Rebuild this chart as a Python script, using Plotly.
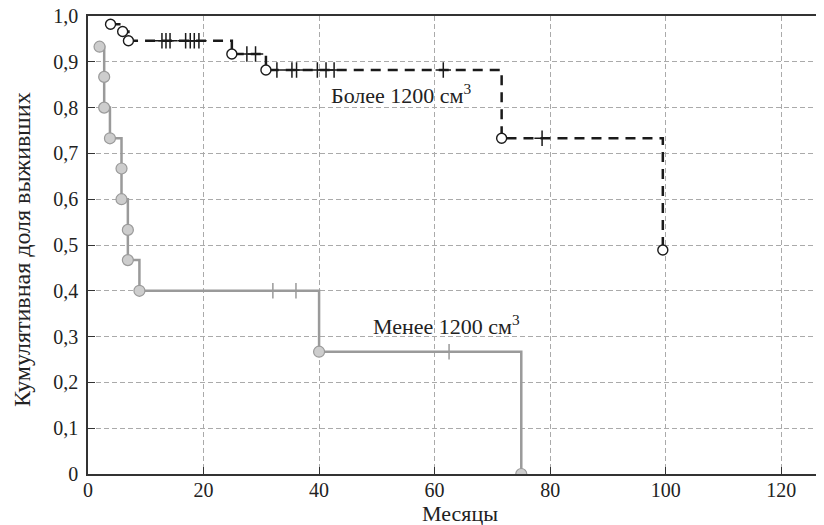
import plotly.graph_objects as go

# ---- data ----
# Group "Менее 1200 см3" (gray, solid)
low_t = [2.0, 2.8, 2.8, 3.8, 5.8, 5.8, 6.9, 6.9, 8.9, 40.0, 75.0]
low_s = [0.933, 0.867, 0.800, 0.733, 0.667, 0.600, 0.533, 0.467, 0.400, 0.267, 0.0]
low_cens_t = [32.0, 36.0, 62.5]
low_cens_s = [0.400, 0.400, 0.267]

# Group "Более 1200 см3" (black, dashed)
up_t = [3.9, 6.0, 7.0, 24.9, 30.8, 71.6, 99.5]
up_s = [0.982, 0.966, 0.946, 0.917, 0.882, 0.733, 0.489]
up_cens_t = [12.8, 13.5, 14.2, 16.9, 17.7, 18.4, 19.2,
             27.5, 29.0,
             32.7, 35.3, 36.1, 39.7, 41.2, 42.6, 61.5,
             78.6]
up_cens_s = [0.946] * 7 + [0.917] * 2 + [0.882] * 7 + [0.733]

x_ticks = [0, 20, 40, 60, 80, 100, 120]
y_ticks = [0, 0.1, 0.2, 0.3, 0.4, 0.5, 0.6, 0.7, 0.8, 0.9, 1.0]
y_ticktext = ["0", "0,1", "0,2", "0,3", "0,4", "0,5", "0,6", "0,7", "0,8", "0,9", "1,0"]

label_low = "Менее 1200 см<sup>3</sup>"
label_up = "Более 1200 см<sup>3</sup>"
x_title = "Месяцы"
y_title = "Кумулятивная доля выживших"

FONT = "Liberation Serif"
GRAY = "#9a9a9a"
TXT = "#222222"

fig = go.Figure()

fig.add_trace(go.Scatter(x=low_t, y=low_s, mode="lines", line_shape="hv",
                         line=dict(color=GRAY, width=2.5), hoverinfo="skip"))
fig.add_trace(go.Scatter(x=up_t, y=up_s, mode="lines", line_shape="hv",
                         line=dict(color="#1a1a1a", width=2.5, dash="10px,7px"),
                         hoverinfo="skip"))
fig.add_trace(go.Scatter(x=low_cens_t, y=low_cens_s, mode="markers",
                         marker=dict(symbol="cross-thin", size=11,
                                     line=dict(color=GRAY, width=1.5))))
fig.add_trace(go.Scatter(x=up_cens_t, y=up_cens_s, mode="markers",
                         marker=dict(symbol="cross-thin", size=11,
                                     line=dict(color="#1a1a1a", width=1.5))))
fig.add_trace(go.Scatter(x=low_t, y=low_s, mode="markers",
                         marker=dict(symbol="circle", size=11, color="#cdcdcd",
                                     line=dict(color=GRAY, width=1.2))))
fig.add_trace(go.Scatter(x=up_t, y=up_s, mode="markers",
                         marker=dict(symbol="circle", size=10, color="white",
                                     line=dict(color="#1a1a1a", width=1.4))))

fig.add_annotation(x=54.2, y=0.829, text=label_up, showarrow=False,
                   font=dict(family=FONT, size=22, color=TXT))
fig.add_annotation(x=62.0, y=0.326, text=label_low, showarrow=False,
                   font=dict(family=FONT, size=22, color=TXT))

# axis titles as paper annotations
fig.add_annotation(xref="paper", yref="paper", x=0, y=0.489, xshift=-66,
                   text=y_title, textangle=-90, showarrow=False,
                   xanchor="center", yanchor="middle",
                   font=dict(family=FONT, size=24, color=TXT))
fig.add_annotation(xref="paper", yref="paper", x=0.505, y=0, yshift=-39,
                   text=x_title, showarrow=False,
                   xanchor="center", yanchor="middle",
                   font=dict(family=FONT, size=22, color=TXT))

# page body has an 8px margin, so the figure is sized to fit inside the window
fig.update_layout(
    width=816, height=517,
    margin=dict(l=80, r=0, t=8, b=51, autoexpand=False),
    paper_bgcolor="white", plot_bgcolor="white",
    showlegend=False,
    font=dict(family=FONT, size=20, color=TXT),
    xaxis=dict(range=[0, 127.4], tickvals=x_ticks, ticks="inside", ticklen=7,
               tickcolor="#333", showline=True, linecolor="#333", linewidth=1.5,
               mirror=True, showgrid=True, gridcolor="#aaaaaa", gridwidth=1,
               griddash="5px,3px", zeroline=False, automargin=False,
               ticklabeloverflow="allow", ticklabelstandoff=-3,
               tickfont=dict(family=FONT, size=20, color=TXT)),
    yaxis=dict(range=[0, 1.0], tickvals=y_ticks, ticktext=y_ticktext,
               ticks="inside", ticklen=7, tickcolor="#333",
               showline=True, linecolor="#333", linewidth=1.5,
               showgrid=True, gridcolor="#aaaaaa", gridwidth=1,
               griddash="5px,3px", zeroline=False, automargin=False,
               ticklabeloverflow="allow", ticklabelstandoff=4,
               tickfont=dict(family=FONT, size=20, color=TXT)),
)

fig.write_html("out.html")
